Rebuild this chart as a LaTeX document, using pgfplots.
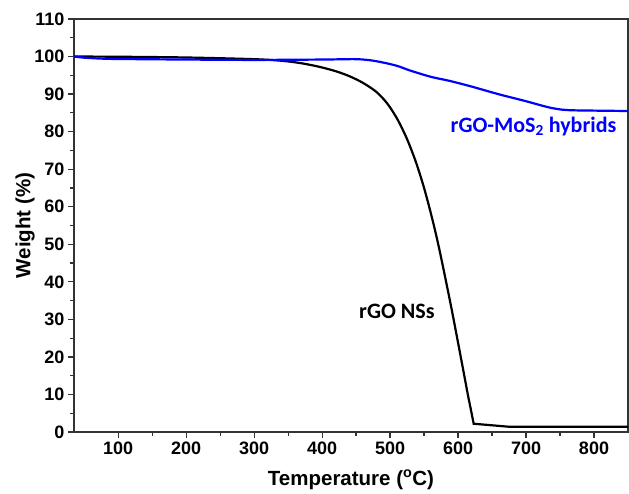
\documentclass[border=0pt]{standalone}
\usepackage{pgfplots}
\pgfplotsset{compat=1.18}
\usepackage{fontspec}
\setmainfont{Liberation Sans}
\newfontfamily\calib{Carlito}
\begin{document}
\begin{tikzpicture}
\begin{axis}[
  at={(0,0)}, anchor=south west,
  scale only axis, width=554pt, height=413pt,
  xmin=35, xmax=850, ymin=0, ymax=110,
  xtick={100,200,...,800}, ytick={0,10,...,110},
  minor x tick num=1, minor y tick num=1,
  tick align=outside,
  xtick pos=bottom, ytick pos=left,
  major tick length=6pt, minor tick length=3.5pt,
  every tick/.style={line width=1.2pt, black!80},
  axis line style={line width=1.3pt, black!80},
  /pgf/number format/assume math mode=true,
  tick label style={font=\fontsize{18}{18}\selectfont\bfseries},
  xlabel={Temperature (\textsuperscript{o}C)},
  ylabel={Weight (\%)},
  label style={font=\fontsize{20.5}{20.5}\selectfont\bfseries},
  xlabel style={at={(axis description cs:0.5,-0.116)}, anchor=center},
  ylabel style={at={(axis description cs:-0.0884,0.5)}, anchor=center},
  clip=true,
]
% rGO NSs (black), smooth part
\addplot[black, line width=2.2pt, smooth, tension=0.5] coordinates {
(35,100) (100,99.95) (200,99.75) (300,99.3) (342,98.85) (370,98.2) (395,97.3) (420,96.1)
(441,94.7) (460,93.0) (478,90.85) (490,88.75) (500,86.45) (512,82.9) (525,78) (538,71.9)
(550,65) (562,56.8) (573,48.2) (590,33.2) (605,19) (614,10.3)
};
\addplot[black, line width=2.2pt] coordinates {
(614,10.3) (623,2.2) (675,1.4) (850,1.4)
};
% rGO-MoS2 hybrids (blue)
\addplot[blue, line width=2.2pt, smooth, tension=0.5] coordinates {
(35,100) (50,99.7) (75,99.45) (100,99.35) (200,99.2) (300,99.1) (400,99.2)
(450,99.3) (475,98.9) (500,98) (514,97.3) (529,96.3) (560,94.6) (588,93.5)
(620,92) (661,89.9) (700,88.1) (735,86.4) (760,85.75) (800,85.6) (850,85.5)
};
\node[text=blue, font=\calib\fontsize{22}{22}\selectfont\bfseries] at (axis cs:711,81.3) {rGO-MoS\textsubscript{2} hybrids};
\node[text=black, font=\calib\fontsize{22}{22}\selectfont\bfseries] at (axis cs:510,32) {rGO NSs};
\end{axis}
\pgfresetboundingbox
\useasboundingbox (-74pt,-61pt) rectangle (555pt,432pt);
\end{tikzpicture}
\end{document}
